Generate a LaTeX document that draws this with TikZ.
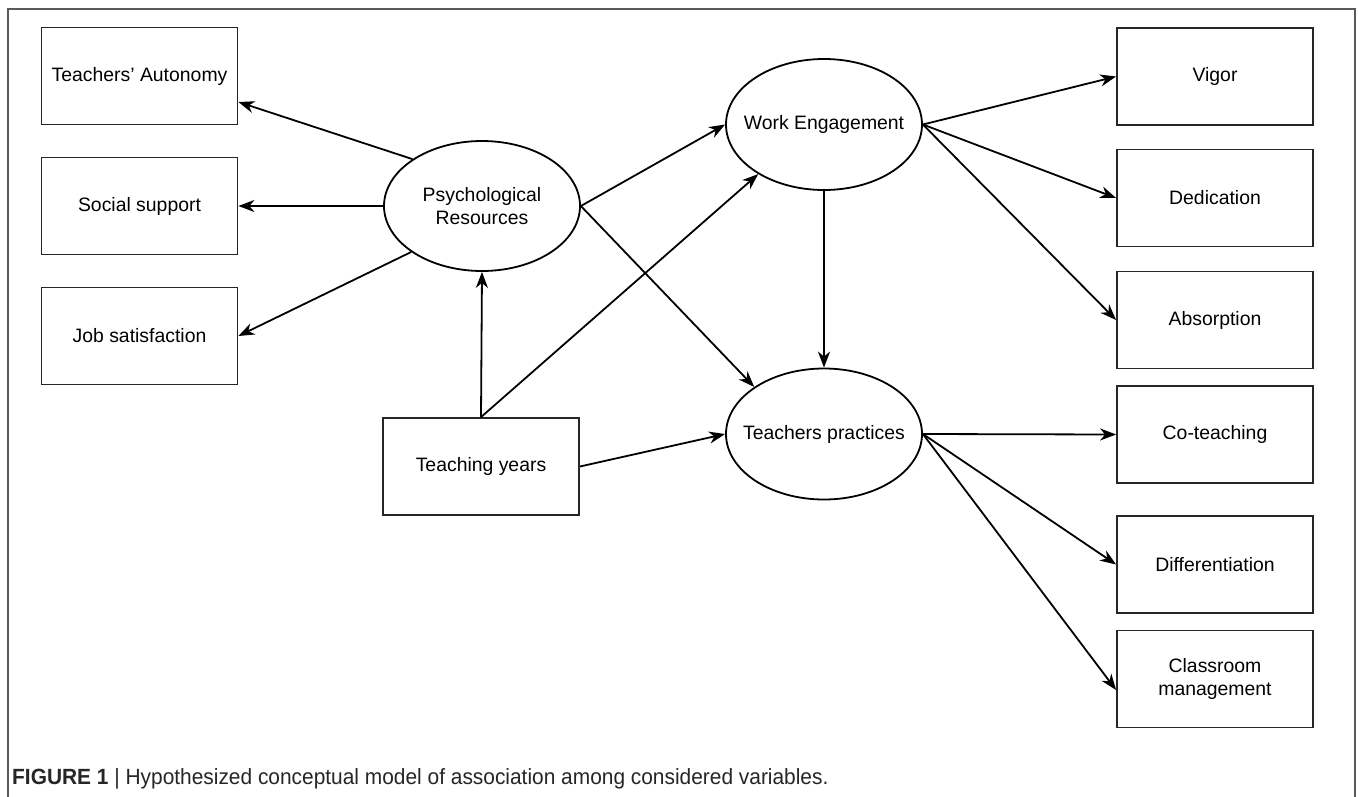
\documentclass[tikz,border=0pt]{standalone}
\usepackage{fontspec}
\setmainfont{Liberation Sans}
\newfontfamily\capfont[FakeStretch=0.95]{Liberation Sans}
\usetikzlibrary{arrows.meta,shapes.geometric,calc}
\tikzset{
  box/.style={draw=black!85, line width=1.8pt, minimum width=196pt, minimum height=97pt, inner sep=0pt, align=center, font=\fontsize{19.4}{22.5}\selectfont, text=black},
  oval/.style={ellipse, draw=black, line width=1.8pt, minimum width=196pt, minimum height=130pt, inner xsep=-40pt, inner ysep=0pt, align=center, font=\fontsize{19.4}{22.5}\selectfont, text=black},
  conn/.style={line width=1.8pt, draw=black, -{Stealth[length=16pt,width=12pt,inset=5pt]}},
  frame/.style={draw=black!65, line width=1.2pt}
}
\begin{document}
\begin{tikzpicture}[x=1pt,y=-1pt]
\useasboundingbox (0,0) rectangle (1358,796);
\fill[white] (0,0) rectangle (1358,796);
\draw[frame] (8,800) -- (8,9) -- (1355,9) -- (1355,800);

\node[box] (auto) at (139.5,76) {Teachers' Autonomy};
\node[box] (soc) at (139.5,206) {Social support};
\node[box] (job) at (139.5,336) {Job satisfaction};
\node[box] (ty) at (481,466.5) {Teaching years};

\node[box] (vig) at (1215,76.5) {Vigor};
\node[box] (ded) at (1215,198) {Dedication};
\node[box] (abs) at (1215,320) {Absorption};
\node[box] (cot) at (1215,434.5) {Co-teaching};
\node[box] (dif) at (1215,564.5) {Differentiation};
\node[box] (cm) at (1215,679) {Classroom\\management};

\node[oval] (psy) at (482,206) {Psychological\\Resources};
\node[oval, minimum height=131pt] (we) at (824,124.5) {Work Engagement};
\node[oval, minimum height=131pt] (tp) at (824,434) {Teachers practices};

\draw[conn] (psy.146.7) -- ([yshift=-26pt]auto.east);
\draw[conn] (psy.west) -- (soc.east);
\draw[conn] (psy.213) -- (job.east);
\draw[conn] (ty.north) -- (psy.south);
\draw[conn] (ty.north) -- (we.217);
\draw[conn] (psy.east) -- (we.west);
\draw[conn] (psy.east) -- (tp.146.5);
\draw[conn] (we.south) -- (tp.north);
\draw[conn] (ty.east) -- (tp.west);
\draw[conn] (we.east) -- (vig.west);
\draw[conn] (we.east) -- (ded.west);
\draw[conn] (we.east) -- (abs.west);
\draw[conn] (tp.east) -- (cot.west);
\draw[conn] (tp.east) -- (dif.west);
\draw[conn] (tp.east) -- ([yshift=-11pt]cm.west);

\node[anchor=west, inner sep=0pt, font=\capfont\fontsize{22}{26}\selectfont, text=black!85] (cap) at (12,779) {\textbf{FIGURE 1} | Hypothesized conceptual model of association among considered variables.};
\end{tikzpicture}
\end{document}
